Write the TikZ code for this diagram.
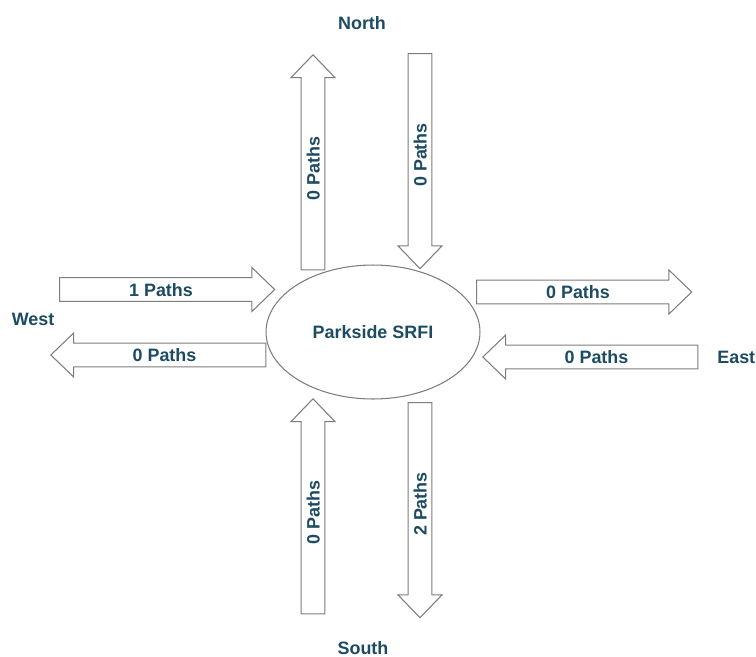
\documentclass[tikz,border=0pt]{standalone}
\usepackage{fontspec}
\setsansfont{Liberation Sans}
\usepackage{tikz}
\usetikzlibrary{shapes.geometric, shapes.arrows, positioning}
\definecolor{pathteal}{RGB}{28,75,98}
\definecolor{outlinegray}{RGB}{125,125,125}

\begin{document}
\begin{tikzpicture}[x=0.02cm, y=-0.02cm,
    flow/.style={single arrow, draw=outlinegray, fill=white, line width=0.6pt,
                 minimum height=4.3cm, single arrow head extend=0.2cm,
                 single arrow tip angle=88, text height=7.4pt, text depth=0pt,
                 inner xsep=2pt, inner ysep=2.8pt, text=pathteal,
                 font=\sffamily\bfseries\fontsize{10.2}{12}\selectfont},
    site/.style={ellipse, draw=outlinegray, line width=0.6pt, minimum width=4.28cm,
                 minimum height=2.68cm, inner sep=0pt, text=pathteal,
                 font=\sffamily\bfseries\fontsize{10.2}{12}\selectfont},
    compass/.style={text=pathteal, inner sep=0pt,
                 font=\sffamily\bfseries\fontsize{10.2}{12}\selectfont}]

    \useasboundingbox (0,0) rectangle (756,656);

    \node[site] (park) at (373,332) {Parkside SRFI};

    % west
    \node[flow] (westin) at (161,289.5) {1 Paths};
    \node[flow, shape border rotate=180] (westout) at (164.5,355) {0 Paths};
    \node[compass] (west) at (33,319) {West};

    % east
    \node[flow] (eastout) at (578,292) {0 Paths};
    \node[flow, shape border rotate=180] (eastin) at (596.5,357) {0 Paths};
    \node[compass, anchor=west] (east) at (717,357) {East};

    % north
    \node[flow, rotate=90] (northout) at (313,168.5) {0 Paths};
    \node[flow, rotate=90, shape border rotate=180] (northin) at (420,155) {0 Paths};
    \node[compass] (north) at (362,23) {North};

    % south
    \node[flow, rotate=90] (southin) at (313,512.5) {0 Paths};
    \node[flow, rotate=90, shape border rotate=180] (southout) at (420,504) {2 Paths};
    \node[compass] (south) at (363,648) {South};
\end{tikzpicture}
\end{document}
